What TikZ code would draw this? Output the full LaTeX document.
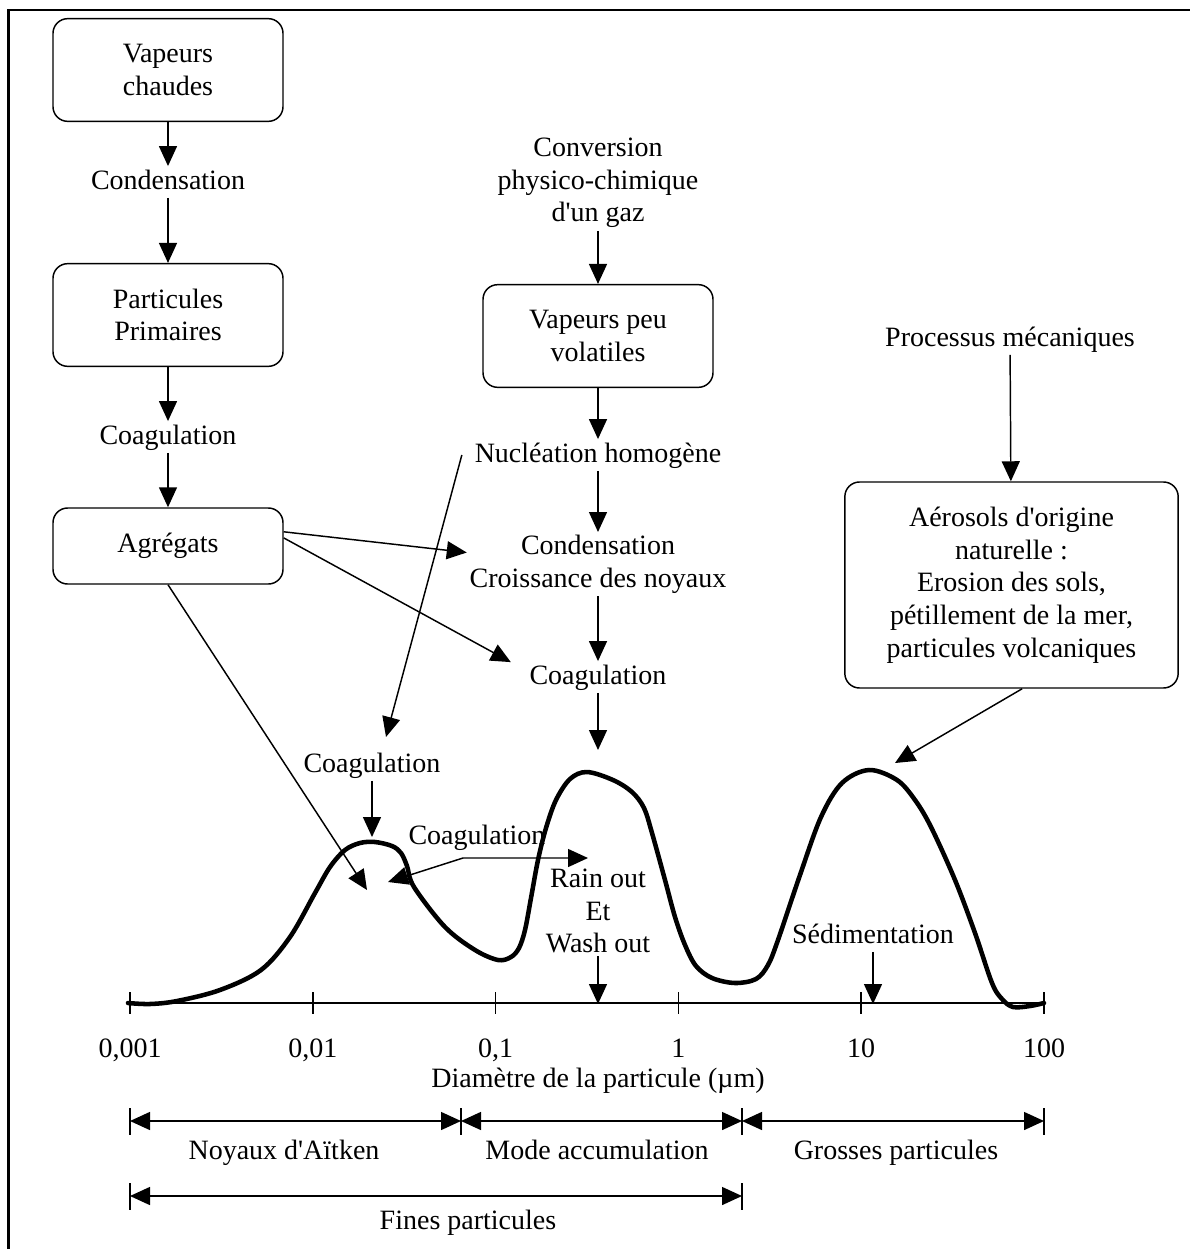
\documentclass[tikz,border=0pt]{standalone}
\usepackage{fontspec}
\setmainfont{Liberation Serif}
\usetikzlibrary{arrows.meta}

\begin{document}
\begin{tikzpicture}[x=0.75pt,y=0.75pt,yscale=-1,
  every node/.style={font=\fontsize{21}{24.5}\selectfont, align=center, inner sep=2pt},
  lbl/.style={text height=15pt, text depth=4.5pt},
  procbox/.style={draw, line width=1.1pt, rounded corners=11pt, minimum width=172.5pt, minimum height=77pt},
  flow/.style={line width=1.1pt, -{Triangle[length=15pt,width=13.5pt]}},
  both/.style={line width=1.1pt, {Triangle[length=15pt,width=13.5pt]}-{Triangle[length=15pt,width=13.5pt]}},
  distrib/.style={line width=3.4pt, line join=round, line cap=round}]
\useasboundingbox (0,0) rectangle (1190,1249);

%frame
\draw[line width=1.9pt] (8.5,1249) -- (8.5,10) -- (1190,10);

%left column
\node[procbox] (vap) at (168,70) {Vapeurs\\chaudes};
\node[lbl] (cond1) at (168,182) {Condensation};
\node[procbox] (prim) at (168,315) {Particules\\Primaires};
\node[lbl] (coag1) at (168,437) {Coagulation};
\node[procbox, minimum height=57pt] (agr) at (168,546) {Agrégats};

%middle column
\node (conv) at (598,183) {Conversion\\physico-chimique\\d\textquotesingle un gaz};
\node[procbox] (vpv) at (598,336) {Vapeurs peu\\volatiles};
\node[lbl] (nucl) at (598,455) {Nucléation homogène};
\node (croi) at (598,564) {Condensation\\Croissance des noyaux};
\node[lbl] (coag2) at (598,677) {Coagulation};

%right column
\node[lbl] (proc) at (1010,339) {Processus mécaniques};
\node[procbox, minimum width=250pt, minimum height=154.5pt] (aer) at (1011.5,585) {Aérosols d\textquotesingle origine\\naturelle :\\Erosion des sols,\\pétillement de la mer,\\particules volcaniques};

%labels near the curve
\node[lbl] (coag3) at (372,765) {Coagulation};
\node[lbl] (coag4) at (477,837) {Coagulation};
\node (rain) at (598,911) {Rain out\\Et\\Wash out};
\node[lbl] (sed) at (873,936) {Sédimentation};

%points on the curve
\coordinate (pk1) at (372,837);
\coordinate (pk2) at (598,750);
\coordinate (pk3) at (895,763);
\coordinate (in1) at (367,890);
\coordinate (in2) at (388,882);
\coordinate (bend) at (463,858);
\coordinate (out2) at (588,858);
\coordinate (nuclTip) at (386,737);
\coordinate (ax4) at (598,1004);
\coordinate (ax10) at (873,1004);

%size distribution
\draw[distrib] plot[smooth, tension=0.55] coordinates {(128,1003) (150,1004) (177,1001) (220,990) (261,970) (290,937) (315,893) (330,867) (345,850) (360,843) (375,842) (392,846) (401,853) (407,866) (414,887) (445,927) (475,950) (498,960) (511,957) (519,948) (525,930) (531,898) (538,860) (546,828) (556,800) (570,779) (587,772) (613,780) (632,792) (644,808) (652,833) (665,880) (675,917) (685,945) (696,966) (712,978) (735,983) (756,979) (768,965) (778,940) (800,875) (821,817) (842,783) (869,770) (897,780) (915,800) (931,827) (955,880) (975,933) (992,983) (1002,999) (1013,1007) (1030,1006) (1044,1003)};

%axis
\draw[line width=1.1pt] (130,1003) -- (1044,1003);
\foreach \x/\t [count=\i] in {130/{0,001},312.8/{0,01},495.6/{0,1},678.4/1,861.2/10,1044/100} {
  \draw[line width=1.1pt] (\x,992) -- (\x,1014);
  \node[lbl] (tick\i) at (\x,1050) {\t};
}
\node[lbl] (diam) at (598,1080) {Diamètre de la particule (µm)};

%ranges
\foreach \x in {130,461,742,1044} \draw[line width=1.1pt] (\x,1108) -- (\x,1135);
\foreach \x in {130,742} \draw[line width=1.1pt] (\x,1183) -- (\x,1210);
\coordinate (r0) at (130,1121);
\coordinate (r1) at (461,1121);
\coordinate (r2) at (742,1121);
\coordinate (r3) at (1044,1121);
\coordinate (f0) at (130,1196);
\coordinate (f1) at (742,1196);
\draw[both] (r0) -- (r1);
\draw[both] (r1) -- (r2);
\draw[both] (r2) -- (r3);
\draw[both] (f0) -- (f1);
\node[lbl] (aitken) at (284,1152) {Noyaux d\textquotesingle Aïtken};
\node[lbl] (accu) at (597,1152) {Mode accumulation};
\node[lbl] (gross) at (896,1152) {Grosses particules};
\node[lbl] (fines) at (468,1222) {Fines particules};

%arrows
\draw[flow] (vap) -- (cond1);
\draw[flow] (cond1) -- (prim);
\draw[flow] (prim) -- (coag1);
\draw[flow] (coag1) -- (agr);
\draw[flow] (conv) -- (vpv);
\draw[flow] (vpv) -- (nucl);
\draw[flow] (nucl) -- (croi);
\draw[flow] (croi) -- (coag2);
\draw[flow] (coag2) -- (pk2);
\draw[flow] (proc) -- (aer);
\draw[flow] ([xshift=8pt]aer.south) -- (pk3);
\draw[flow] (agr.7) -- (croi.175);
\draw[flow, shorten >=13.5pt] (agr.4) -- (coag2.175);
\draw[flow] (agr.south) -- (in1);
\draw[flow] ([xshift=-7.5pt]nucl.west) -- (nuclTip);
\draw[flow] (coag3) -- (pk1);
\draw[both] (in2) -- (bend) -- (out2);
\draw[flow] (rain) -- (ax4);
\draw[flow] (sed) -- (ax10);

\end{tikzpicture}
\end{document}
